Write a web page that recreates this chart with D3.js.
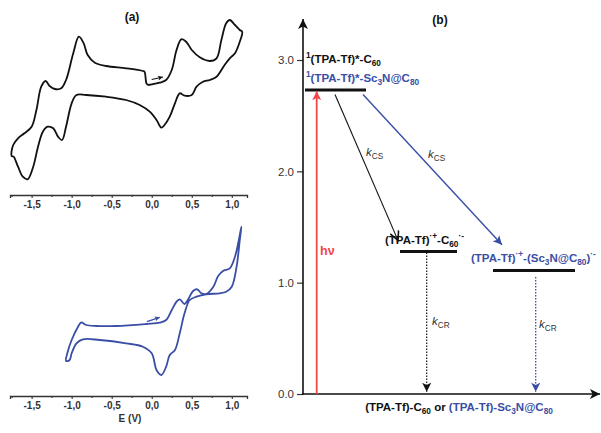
<!DOCTYPE html>
<html>
<head>
<meta charset="utf-8">
<script src="https://cdn.jsdelivr.net/npm/d3@7"></script>
<style>
  body { margin: 0; background: #fff; }
  text { font-family: "Liberation Sans", Arial, sans-serif; }
</style>
</head>
<body>
<script>
// (a) cyclic voltammograms: potential E (V) and current (arbitrary units)
var topE = [-0.046, 0.10, 0.18, 0.25, 0.31, 0.37, 0.43, 0.50, 0.60, 0.725, 0.81, 0.87, 0.93, 0.975, 1.04, 1.10, 1.13,
  1.10, 1.04, 0.975, 0.91, 0.81, 0.725, 0.64, 0.56, 0.50, 0.41, 0.35, 0.29, 0.225, 0.16, 0.12, 0.06, -0.025, -0.15, -0.32, -0.57, -0.82, -0.94,
  -1.00, -1.07, -1.12, -1.17, -1.23, -1.30, -1.36, -1.42, -1.48, -1.55, -1.61, -1.67, -1.725, -1.75,
  -1.73, -1.67, -1.59, -1.50, -1.44, -1.38, -1.325, -1.275, -1.21, -1.13, -1.07, -0.98, -0.91, -0.85, -0.80, -0.71, -0.57, -0.32, -0.11, -0.09, -0.066, -0.046];
var topI = [11.0, 11.23, 11.5, 12.5, 14.5, 15.57, 15.33, 14.5, 13.77, 13.4, 13.67, 15.5, 17.17, 17.5, 17.0, 16.5, 16.33,
  15.33, 14.17, 13.67, 13.0, 11.83, 11.5, 11.33, 10.83, 10.0, 9.93, 10.17, 9.17, 7.83, 7.0, 6.73, 7.5, 8.33, 9.0, 9.5, 9.83, 10.0, 10.0,
  9.17, 6.83, 5.5, 5.83, 6.67, 6.83, 6.33, 4.83, 2.83, 1.57, 1.83, 2.83, 3.83, 3.9,
  5.0, 5.67, 6.17, 6.83, 8.5, 10.83, 11.4, 10.9, 10.6, 10.67, 11.5, 14.17, 15.83, 15.17, 14.0, 13.23, 12.9, 12.67, 12.4, 12.33, 11.17, 11.0];

var botE = [-1.07, -1.05, -1.00, -0.92, -0.88, -0.82, -0.69, -0.44, -0.07, 0.10, 0.18, 0.25, 0.31, 0.35, 0.41, 0.45, 0.52, 0.57, 0.62, 0.68,
  0.77, 0.83, 0.89, 0.975, 1.04, 1.08, 1.12,
  1.10, 1.06, 1.00, 0.93, 0.85, 0.68, 0.56, 0.475, 0.41, 0.35, 0.29, 0.225, 0.18, 0.12, 0.06, 0.00, -0.11, -0.32, -0.65, -0.86, -0.94, -1.00, -1.025];
var botI = [3.5, 4.4, 5.6, 6.93, 7.37, 7.1, 7.0, 7.0, 7.2, 7.33, 7.6, 8.6, 9.43, 9.67, 9.2, 9.6, 10.53, 10.67, 10.27, 10.2,
  10.93, 12.0, 12.5, 12.77, 13.93, 15.27, 16.93,
  15.6, 12.93, 10.93, 10.43, 10.27, 10.17, 9.93, 9.6, 8.27, 6.27, 4.6, 4.1, 2.93, 2.1, 2.6, 4.27, 4.93, 5.27, 5.6, 5.67, 5.27, 4.27, 3.6];

// scan direction arrows [E0, I0, E1, I1]
var topScanArrow = [0.0, 11.55, 0.14, 11.8];
var botScanArrow = [-0.06, 7.43, 0.10, 7.87];

var eTicks = [-1.5, -1.0, -0.5, 0.0, 0.5, 1.0];
var eMinorTicks = [-1.75, -1.25, -0.75, -0.25, 0.25, 0.75];

// (b) energy diagram: energies in eV, positions along a reaction coordinate
var levelEnergy = [2.73, 1.28, 1.11];
var levelStart = [2, 97, 190];
var levelEnd = [63, 154, 272];
var energyTicks = [0, 1, 2, 3];

// transitions: [x0, E0, x1, E1]
var csBlack = [32, 2.69, 95, 1.38];
var csBlue = [60, 2.69, 199, 1.34];
var crBlack = [123.7, 1.27, 123.7, 0.02];
var crBlue = [232.7, 1.05, 232.7, 0.02];
var excitation = [13.7, 0, 13.7, 2.72];

var black = "#111", grey = "#333", blue = "#3a4ea6", red = "#f0474a";

var svg = d3.select("body").append("svg")
  .attr("width", 601)
  .attr("height", 433);

var defs = svg.append("defs");
function marker(id, color, w, h, open) {
  var m = defs.append("marker")
    .attr("id", id)
    .attr("viewBox", "0 0 10 10")
    .attr("refX", open ? 9 : 10).attr("refY", 5)
    .attr("markerUnits", "userSpaceOnUse")
    .attr("markerWidth", w).attr("markerHeight", h)
    .attr("orient", "auto");
  if (open) {
    m.append("path").attr("d", "M0,0.5 L9,5 L0,9.5")
      .attr("fill", "none").attr("stroke", color).attr("stroke-width", 1.6);
  } else {
    m.append("path").attr("d", "M0,0 L10,5 L0,10 L2.5,5 Z").attr("fill", color);
  }
}
marker("headOpen", black, 12, 10, true);
marker("headBlack", black, 12, 9);
marker("headBlue", blue, 12, 9);
marker("headRed", red, 13, 9);
marker("headAxis", black, 14, 10);
marker("headSmallBlack", black, 6, 5);
marker("headSmallBlue", blue, 6, 5);

// rich text with sub/superscripts
function rich(g, x, y, size, parts, anchor) {
  var t = g.append("text")
    .attr("x", x).attr("y", y)
    .attr("font-size", size)
    .attr("text-anchor", anchor || "start");
  var off = 0;
  parts.forEach(function (p) {
    var target = p.s === "sup" ? -0.4 : p.s === "sub" ? 0.25 : 0;
    var ts = t.append("tspan").text(p.t).attr("dy", ((target - off) * size).toFixed(2));
    off = target;
    if (p.s) ts.attr("font-size", size * 0.72);
    if (p.c) ts.attr("fill", p.c);
    if (p.b) ts.attr("font-weight", "bold");
    if (p.i) ts.attr("font-style", "italic");
  });
  return t;
}

// ---------- panel (a) ----------
var xE = d3.scaleLinear().domain([-1.77, 1.19]).range([10, 247]);
var yTop = d3.scaleLinear().domain([0, 19.5]).range([195, 0]);
var yBot = d3.scaleLinear().domain([0, 19.6]).range([396, 200]);

var fmtE = function (d) { return d3.format(".1f")(d).replace("−", "-").replace(".", ","); };

function cvAxis(y) {
  var g = svg.append("g").attr("transform", "translate(0," + y + ")");
  g.call(d3.axisBottom(xE).tickValues(eTicks).tickFormat(fmtE).tickSize(3).tickPadding(3));
  g.call(function (s) {
    s.append("g").call(d3.axisBottom(xE).tickValues(eMinorTicks).tickFormat("").tickSize(2))
      .select(".domain").remove();
  });
  g.selectAll("path.domain").attr("stroke", grey).attr("stroke-width", 1.3);
  g.selectAll(".tick line").attr("stroke", grey).attr("stroke-width", 1.1);
  g.selectAll("text")
    .attr("font-family", "'Liberation Sans', Arial, sans-serif")
    .attr("font-size", 10).attr("font-weight", "bold").attr("fill", grey);
  return g;
}
cvAxis(195);
cvAxis(396);

var topData = topE.map(function (e, i) { return [e, topI[i]]; });
var botData = botE.map(function (e, i) { return [e, botI[i]]; });

svg.append("path")
  .datum(topData)
  .attr("d", d3.line().x(d => xE(d[0])).y(d => yTop(d[1])).curve(d3.curveCatmullRom.alpha(0.5)))
  .attr("fill", "none").attr("stroke", black).attr("stroke-width", 1.8);

svg.append("path")
  .datum(botData)
  .attr("d", d3.line().x(d => xE(d[0])).y(d => yBot(d[1])).curve(d3.curveCatmullRomClosed.alpha(0.5)))
  .attr("fill", "none").attr("stroke", blue).attr("stroke-width", 1.8);

svg.append("line")
  .attr("x1", xE(topScanArrow[0])).attr("y1", yTop(topScanArrow[1]))
  .attr("x2", xE(topScanArrow[2])).attr("y2", yTop(topScanArrow[3]))
  .attr("stroke", black).attr("stroke-width", 1.2).attr("marker-end", "url(#headSmallBlack)");
svg.append("line")
  .attr("x1", xE(botScanArrow[0])).attr("y1", yBot(botScanArrow[1]))
  .attr("x2", xE(botScanArrow[2])).attr("y2", yBot(botScanArrow[3]))
  .attr("stroke", blue).attr("stroke-width", 1.4).attr("marker-end", "url(#headSmallBlue)");

svg.append("text").attr("x", 132).attr("y", 21).attr("text-anchor", "middle")
  .attr("font-size", 12).attr("font-weight", "bold").attr("fill", black).text("(a)");
svg.append("text").attr("x", 130).attr("y", 422).attr("text-anchor", "middle")
  .attr("font-size", 10).attr("font-weight", "bold").attr("fill", grey).text("E (V)");

// ---------- panel (b) ----------
var xB = d3.scaleLinear().domain([0, 300]).range([303, 603]);
var yB = d3.scaleLinear().domain([0, 3]).range([394, 60]);

var gB = svg.append("g");
var leftAxis = gB.append("g").attr("transform", "translate(" + xB(0) + ",0)")
  .call(d3.axisLeft(yB).tickValues(energyTicks).tickFormat(d3.format(".1f")).tickSize(6).tickPadding(3));
leftAxis.select(".domain").remove();
leftAxis.selectAll(".tick line").attr("stroke", grey).attr("stroke-width", 1.2);
leftAxis.selectAll("text")
  .attr("font-family", "'Liberation Sans', Arial, sans-serif")
  .attr("font-size", 11.5).attr("fill", grey);

gB.append("line")
  .attr("x1", xB(0)).attr("y1", yB(0) + 0.8).attr("x2", xB(0)).attr("y2", 19)
  .attr("stroke", black).attr("stroke-width", 1.6).attr("marker-end", "url(#headAxis)");
gB.append("line")
  .attr("x1", xB(0) - 0.8).attr("y1", yB(0)).attr("x2", 600).attr("y2", yB(0))
  .attr("stroke", black).attr("stroke-width", 1.6).attr("marker-end", "url(#headAxis)");

// energy levels
gB.selectAll("line.level")
  .data(levelEnergy)
  .enter().append("line")
  .attr("class", "level")
  .attr("x1", (d, i) => xB(levelStart[i]))
  .attr("x2", (d, i) => xB(levelEnd[i]))
  .attr("y1", d => yB(d)).attr("y2", d => yB(d))
  .attr("stroke", black).attr("stroke-width", 3);

function arrow(a, color, head, width, dash) {
  var l = gB.append("line")
    .attr("x1", xB(a[0])).attr("y1", yB(a[1]))
    .attr("x2", xB(a[2])).attr("y2", yB(a[3]))
    .attr("stroke", color).attr("stroke-width", width)
    .attr("marker-end", "url(#" + head + ")");
  if (dash) l.attr("stroke-dasharray", dash);
}
arrow(excitation, red, "headRed", 1.8);
arrow(csBlack, black, "headOpen", 1.1);
arrow(csBlue, blue, "headBlue", 1.4);
arrow(crBlack, black, "headBlack", 1.2, "1.5,1.5");
arrow(crBlue, blue, "headBlue", 1.3, "1.5,1.5");

// labels
rich(gB, xB(levelStart[0]) + 1, 63, 11.5, [
  { t: "1", s: "sup", b: true }, { t: "(TPA-Tf)*-C", b: true }, { t: "60", s: "sub", b: true }
]).attr("fill", black);
rich(gB, xB(levelStart[0]) + 1, 82, 11.5, [
  { t: "1", s: "sup", b: true }, { t: "(TPA-Tf)*-Sc", b: true }, { t: "3", s: "sub", b: true },
  { t: "N@C", b: true }, { t: "80", s: "sub", b: true }
]).attr("fill", blue);
rich(gB, 385, 244, 11.5, [
  { t: "(TPA-Tf)", b: true }, { t: "·+", s: "sup", b: true }, { t: "-C", b: true },
  { t: "60", s: "sub", b: true }, { t: "·-", s: "sup", b: true }
]).attr("fill", black);
rich(gB, 471, 262, 11.5, [
  { t: "(TPA-Tf)", b: true }, { t: "·+", s: "sup", b: true }, { t: "-(Sc", b: true },
  { t: "3", s: "sub", b: true }, { t: "N@C", b: true }, { t: "80", s: "sub", b: true },
  { t: ")", b: true }, { t: "·-", s: "sup", b: true }
]).attr("fill", blue);
rich(gB, 459, 411, 11.5, [
  { t: "(TPA-Tf)-C", b: true, c: black }, { t: "60", s: "sub", b: true, c: black },
  { t: " or ", b: true, c: black },
  { t: "(TPA-Tf)-Sc", b: true, c: blue }, { t: "3", s: "sub", b: true, c: blue },
  { t: "N@C", b: true, c: blue }, { t: "80", s: "sub", b: true, c: blue }
], "middle");

gB.append("text").attr("x", 320).attr("y", 255)
  .attr("font-size", 12.5).attr("font-weight", "bold").attr("fill", red).text("hν");

rich(gB, 366, 156, 11.5, [{ t: "k", i: true }, { t: "CS", s: "sub" }]).attr("fill", grey);
rich(gB, 428, 158, 11.5, [{ t: "k", i: true }, { t: "CS", s: "sub" }]).attr("fill", grey);
rich(gB, 432, 325, 11.5, [{ t: "k", i: true }, { t: "CR", s: "sub" }]).attr("fill", grey);
rich(gB, 539, 328, 11.5, [{ t: "k", i: true }, { t: "CR", s: "sub" }]).attr("fill", grey);

gB.append("text").attr("x", 440).attr("y", 24).attr("text-anchor", "middle")
  .attr("font-size", 12).attr("font-weight", "bold").attr("fill", black).text("(b)");
</script>
</body>
</html>
